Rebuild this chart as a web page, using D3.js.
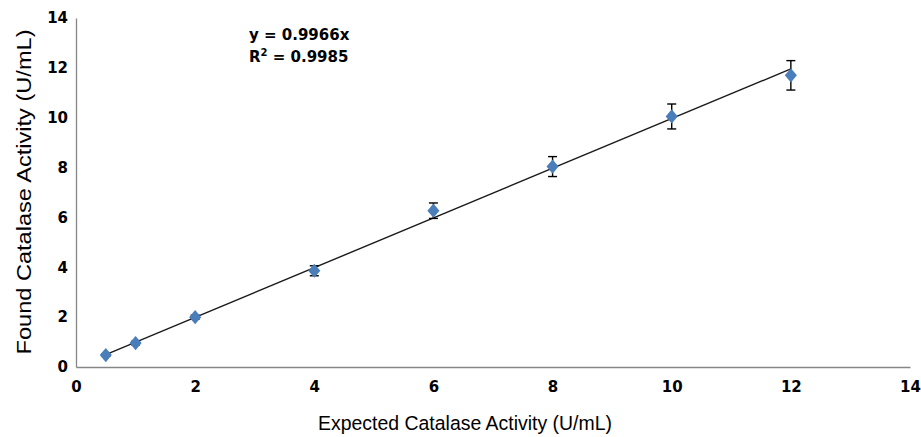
<!DOCTYPE html>
<html>
<head>
<meta charset="utf-8">
<script src="https://cdn.jsdelivr.net/npm/d3@7"></script>
<style>
  html, body { margin: 0; padding: 0; background: #fff; }
  svg { display: block; }
</style>
</head>
<body>
<svg id="chart" width="921" height="437"></svg>
<script>
// Data
const expected = [0.5, 1, 2, 4, 6, 8, 10, 12];
const found    = [0.48, 0.96, 2.0, 3.86, 6.27, 8.04, 10.05, 11.70];
const errors   = [0.05, 0.07, 0.08, 0.2, 0.31, 0.4, 0.5, 0.59];
const xTicks = [0, 2, 4, 6, 8, 10, 12, 14];
const yTicks = [0, 2, 4, 6, 8, 10, 12, 14];
const slope = 0.9966;
const eqText = "y = 0.9966x";
const r2Value = "0.9985";

const svg = d3.select("#chart");
const margin = { left: 76, right: 11, top: 18, bottom: 70 };
const W = 921, H = 437;

const x = d3.scaleLinear().domain([0, 14]).range([margin.left, W - margin.right]);
const y = d3.scaleLinear().domain([0, 14]).range([H - margin.bottom, margin.top]);

const axisColor = "#868686";
const tickFont = "'DejaVu Sans', Verdana, sans-serif";

// X axis
const xAxis = svg.append("g")
  .attr("transform", `translate(0,${y(0)})`)
  .call(d3.axisBottom(x).tickValues(xTicks).tickSize(0).tickPadding(14).tickFormat(d3.format("d")));
xAxis.select(".domain").attr("stroke", axisColor).attr("stroke-width", 1.3);
xAxis.selectAll("text").attr("font-family", tickFont).attr("font-weight", "bold")
  .attr("font-size", 15).attr("fill", "#000");

// Y axis
const yAxis = svg.append("g")
  .attr("transform", `translate(${x(0)},0)`)
  .call(d3.axisLeft(y).tickValues(yTicks).tickSize(0).tickPadding(8).tickFormat(d3.format("d")));
yAxis.select(".domain").attr("stroke", axisColor).attr("stroke-width", 1.3);
yAxis.selectAll("text").attr("font-family", tickFont).attr("font-weight", "bold")
  .attr("font-size", 15).attr("fill", "#000");

// Trend line
const xMin = d3.min(expected), xMax = d3.max(expected);
svg.append("line")
  .attr("x1", x(xMin)).attr("y1", y(slope * xMin))
  .attr("x2", x(xMax)).attr("y2", y(slope * xMax))
  .attr("stroke", "#1a1a1a").attr("stroke-width", 1.4);

// Error bars
const data = expected.map((e, i) => ({ e, f: found[i], err: errors[i] }));
const eb = svg.append("g").attr("stroke", "#000").attr("stroke-width", 1.4);
data.forEach(d => {
  const cx = x(d.e);
  eb.append("line").attr("x1", cx).attr("x2", cx).attr("y1", y(d.f + d.err)).attr("y2", y(d.f - d.err));
  eb.append("line").attr("x1", cx - 4.5).attr("x2", cx + 4.5).attr("y1", y(d.f + d.err)).attr("y2", y(d.f + d.err));
  eb.append("line").attr("x1", cx - 4.5).attr("x2", cx + 4.5).attr("y1", y(d.f - d.err)).attr("y2", y(d.f - d.err));
});

// Markers (diamonds)
const diamond = d3.symbol().type(d3.symbolDiamond2).size(110);
svg.append("g").selectAll("path").data(data).join("path")
  .attr("d", diamond)
  .attr("transform", d => `translate(${x(d.e)},${y(d.f)}) scale(0.92,1.08)`)
  .attr("fill", "#4A7EBB");

// Equation
const eq = svg.append("g").attr("font-family", tickFont).attr("font-weight", "bold")
  .attr("font-size", 15).attr("fill", "#000");
eq.append("text").attr("x", 249).attr("y", 40).text(eqText);
const r2 = eq.append("text").attr("x", 249).attr("y", 62);
r2.append("tspan").text("R");
r2.append("tspan").attr("font-size", 10).attr("dy", -6).text("2");
r2.append("tspan").attr("dy", 6).text(" = " + r2Value);

// Axis titles
svg.append("text")
  .attr("x", 465).attr("y", 430)
  .attr("text-anchor", "middle")
  .attr("font-family", "'Liberation Sans Narrow', 'Arial Narrow', sans-serif")
  .attr("font-size", 20.5).attr("fill", "#000")
  .attr("textLength", 294).attr("lengthAdjust", "spacingAndGlyphs")
  .text("Expected Catalase Activity (U/mL)");

svg.append("text")
  .attr("transform", `translate(31,${192}) rotate(-90)`)
  .attr("text-anchor", "middle")
  .attr("font-family", "'Liberation Sans', Arial, sans-serif")
  .attr("font-size", 21).attr("fill", "#000")
  .attr("textLength", 325).attr("lengthAdjust", "spacingAndGlyphs")
  .text("Found Catalase Activity (U/mL)");
</script>
</body>
</html>
